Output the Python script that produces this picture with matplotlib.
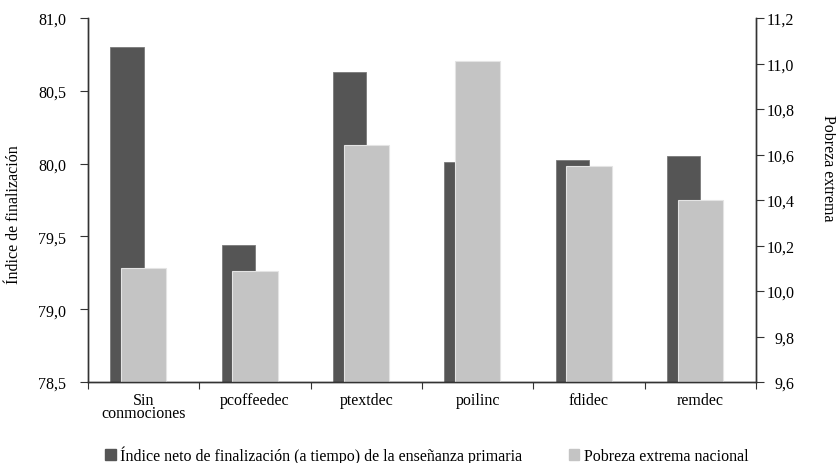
import numpy as np
import matplotlib.pyplot as plt
from matplotlib.ticker import FuncFormatter
from matplotlib.patches import Patch

categories = ["Sin\nconmociones", "pcoffeedec", "ptextdec", "poilinc", "fdidec", "remdec"]
finalizacion = [80.80, 79.44, 80.63, 80.01, 80.025, 80.05]
pobreza = [10.10, 10.09, 10.64, 11.01, 10.55, 10.40]

dark = "#555555"
light = "#c4c4c4"
axis_col = "#333333"

plt.rcParams["font.family"] = ["Liberation Serif", "DejaVu Serif"]
plt.rcParams["font.size"] = 11.5

W, H = 836, 464

def comma(v, pos):
    return "{:.1f}".format(v).replace(".", ",")

fig = plt.figure(figsize=(W / 100, H / 100), dpi=100)
ax0 = fig.add_axes([88/W, 1 - 383/H, (756-88)/W, (383-19)/H])
ax1 = ax0.twinx()

centers = np.arange(len(categories)) + 0.5
ax0.bar(centers - 0.15, finalizacion, width=0.30, bottom=0, color=dark,
        edgecolor="#7a7a7a", linewidth=0.6)
ax1.bar(centers, pobreza, width=0.41, color=light, edgecolor="#e4e4e4", linewidth=0.8)

ax0.set_ylim(78.5, 81.0)
ax1.set_ylim(9.6, 11.2)
ax0.set_xlim(0, len(categories))
ax0.set_yticks(np.arange(78.5, 81.01, 0.5))
ax1.set_yticks(np.arange(9.6, 11.21, 0.2))
ax0.yaxis.set_major_formatter(FuncFormatter(comma))
ax1.yaxis.set_major_formatter(FuncFormatter(comma))

# category boundaries carry the tick marks, names sit between them
ax0.set_xticks(np.arange(len(categories) + 1))
ax0.set_xticklabels([])
ax0.set_xticks(centers, minor=True)
ax0.set_xticklabels(categories, minor=True, linespacing=0.8)
ax0.tick_params(axis="x", which="minor", length=0, pad=7)
ax0.tick_params(axis="x", which="major", direction="out", length=5, color=axis_col)
ax0.tick_params(axis="y", direction="out", length=6, color=axis_col, pad=9.5)
ax1.tick_params(axis="y", direction="out", length=6, color=axis_col, pad=21.5)
for lab in ax1.get_yticklabels():
    lab.set_horizontalalignment("right")

for ax in (ax0, ax1):
    ax.spines["top"].set_visible(False)
    for s in ("left", "right", "bottom"):
        ax.spines[s].set_color(axis_col)
        ax.spines[s].set_linewidth(1.0)

fig.text(14/W, 1 - 215/H, "Índice de finalización", rotation=90,
         ha="center", va="center")
fig.text(828/W, 1 - 168/H, "Pobreza extrema", rotation=270,
         ha="center", va="center")

handles = [Patch(color=dark), Patch(color=light)]
labels = ["Índice neto de finalización (a tiempo) de la enseñanza primaria",
          "Pobreza extrema nacional"]
fig.legend(handles, labels, loc="center", bbox_to_anchor=(427/W, 1 - 456/H),
           ncol=2, frameon=False, handlelength=0.65, handleheight=0.65,
           handletextpad=0.3, columnspacing=2.9, borderpad=0, borderaxespad=0)

fig.savefig("out.png", dpi=100)
